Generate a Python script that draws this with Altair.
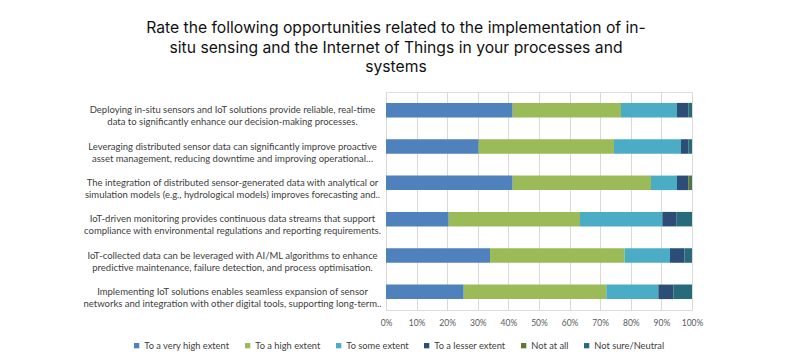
import altair as alt
import pandas as pd

statements = [
    "Deploying in-situ sensors and IoT solutions provide reliable, real-time|data to significantly enhance our decision-making processes.",
    "Leveraging distributed sensor data can significantly improve proactive|asset management, reducing downtime and improving operational…",
    "The integration of distributed sensor-generated data with analytical or|simulation models (e.g., hydrological models) improves forecasting and..",
    "IoT-driven monitoring provides continuous data streams that support|compliance with environmental regulations and reporting requirements.",
    "IoT-collected data can be leveraged with AI/ML algorithms to enhance|predictive maintenance, failure detection, and process optimisation.",
    "Implementing IoT solutions enables seamless expansion of sensor|networks and integration with other digital tools, supporting long-term..",
]
series = ["To a very high extent", "To a high extent", "To some extent",
          "To a lesser extent", "Not at all", "Not sure/Neutral"]
colors = ["#4F81BD", "#9BBB59", "#4BACC6", "#2C4D75", "#5F7530", "#276A7C"]

very_high = [41.4, 30.3, 41.4, 20.5, 34.0, 25.4]
high = [35.4, 44.2, 45.2, 42.9, 44.0, 46.6]
some = [18.3, 21.9, 8.5, 26.9, 14.8, 17.0]
lesser = [3.7, 2.4, 3.7, 4.7, 4.7, 4.9]
not_at_all = [0.0, 0.0, 0.9, 0.0, 0.0, 0.0]
neutral = [1.2, 1.2, 0.3, 5.0, 2.5, 6.1]

tick_values = [0, 10, 20, 30, 40, 50, 60, 70, 80, 90, 100]

rows = []
for si, (name, vals) in enumerate(zip(series, [very_high, high, some, lesser, not_at_all, neutral])):
    for st, v in zip(statements, vals):
        rows.append({"statement": st, "series": name, "value": v, "idx": si})
df = pd.DataFrame(rows)

FONT = "Lato"

chart = alt.Chart(df).mark_bar().encode(
    x=alt.X("value:Q", stack="zero",
            scale=alt.Scale(domain=[0, 100], nice=False),
            axis=alt.Axis(values=tick_values, labelExpr="datum.value + '%'", title=None,
                          labelOverlap=False, labelFlush=False,
                          grid=True, gridColor="#D9D9D9", gridWidth=1, domain=False, ticks=False,
                          labelFont=FONT, labelFontSize=8.5, labelColor="#595959", labelPadding=8)),
    y=alt.Y("statement:N", sort=statements,
            scale=alt.Scale(paddingInner=0.6, paddingOuter=0.3),
            axis=alt.Axis(title=None, labelExpr="split(datum.label, '|')", labelAlign="center",
                          labelPadding=154, ticks=False, tickSize=0, domain=False, labelLimit=500,
                          labelLineHeight=12, labelFont=FONT, labelFontSize=9.5, labelColor="#404040")),
    color=alt.Color("series:N", scale=alt.Scale(domain=series, range=colors),
                    legend=alt.Legend(title=None, orient="none", legendX=-254, legendY=249,
                                      direction="horizontal", columns=6, symbolType="square",
                                      symbolSize=28, symbolStrokeWidth=0, labelFont=FONT,
                                      labelFontSize=9.3, labelColor="#404040", columnPadding=13,
                                      labelOffset=3)),
    order=alt.Order("idx:Q"),
).properties(
    width=306, height=218,
    title=alt.TitleParams(
        text=["Rate the following opportunities related to the implementation of in-",
              "situ sensing and the Internet of Things in your processes and",
              "systems"],
        font="Inter", fontSize=15.7, fontWeight="normal", color="#111111",
        anchor="middle", dx=-143, offset=16, lineHeight=19.5),
    autosize=alt.AutoSizeParams(type="none"),
    padding={"left": 378, "top": 84, "right": 94, "bottom": 44},
).configure_view(stroke=None).configure(background="white")

chart.save("out.html", embed_options={"renderer": "svg", "actions": False})
